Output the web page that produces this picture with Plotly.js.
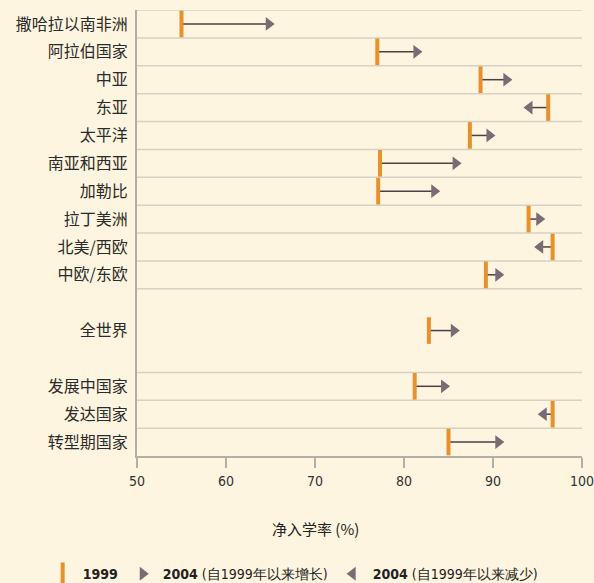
<!DOCTYPE html>
<html>
<head>
<meta charset="utf-8">
<script src="https://cdn.plot.ly/plotly-3.0.1.min.js"></script>
<style>html,body{margin:0;padding:0;background:#fdf5df;}#chart{width:594px;height:583px;}</style>
</head>
<body>
<div id="chart"></div>
<script>
// ---- data ----
var regions = ["撒哈拉以南非洲","阿拉伯国家","中亚","东亚","太平洋","南亚和西亚","加勒比","拉丁美洲","北美/西欧","中欧/东欧"];
var world = ["全世界"];
var groups = ["发展中国家","发达国家","转型期国家"];
var categories = regions.concat(world, groups);
var ner1999 = [55.0, 77.0, 88.6, 96.2, 87.4, 77.3, 77.1, 94.0, 96.7, 89.2, 82.8, 81.2, 96.7, 85.0];
var ner2004 = [64.8, 81.4, 91.5, 94.1, 89.6, 85.8, 83.4, 95.2, 95.3, 90.6, 85.6, 84.5, 95.7, 90.6];
var xTicks = [50, 60, 70, 80, 90, 100];
var legendNames = ["<b>1999</b>", "<b>2004</b> (自1999年以来增长)", "<b>2004</b> (自1999年以来减少)"];
var xTitle = "净入学率 (%)";

// ---- styles ----
var ORANGE = "#e8902a", TRI = "#7b6b74", LINE = "#4a4046", GRID = "#d6d1c4", AXIS = "#b3aea6";
var cjk = "Noto Sans CJK SC, sans-serif";
var narrow = "DejaVu Sans Condensed, Liberation Sans Narrow, DejaVu Sans, sans-serif";

// category order with spacer rows around the world row
var order = regions.concat([" "], world, ["  "], groups);

// connecting segments
var lx = [], ly = [];
for (var i = 0; i < categories.length; i++) {
  lx.push(ner1999[i], ner2004[i], null);
  ly.push(categories[i], categories[i], null);
}
var upX = [], upY = [], dnX = [], dnY = [];
for (var j = 0; j < categories.length; j++) {
  if (ner2004[j] >= ner1999[j]) { upX.push(ner2004[j]); upY.push(categories[j]); }
  else { dnX.push(ner2004[j]); dnY.push(categories[j]); }
}

var traces = [
  {x: lx, y: ly, type: "scatter", mode: "lines", line: {color: LINE, width: 1.5}, showlegend: false, hoverinfo: "skip"},
  {x: ner1999, y: categories, type: "scatter", mode: "markers", name: legendNames[0],
   marker: {symbol: "line-ns", size: 19, line: {width: 4, color: ORANGE}, color: ORANGE}},
  {x: upX, y: upY, type: "scatter", mode: "markers", name: legendNames[1],
   marker: {symbol: "triangle-right", size: 12, color: TRI, line: {width: 0}}},
  {x: dnX, y: dnY, type: "scatter", mode: "markers", name: legendNames[2],
   marker: {symbol: "triangle-left", size: 12, color: TRI, line: {width: 0}}}
];

// separator lines at row boundaries (not inside the world block)
var shapes = [];
function idx(c) { return order.indexOf(c); }
var bounds = [];
for (var r = 0; r < regions.length; r++) { bounds.push(idx(regions[r]) - 0.5); }
bounds.push(idx(regions[regions.length - 1]) + 0.5);
for (var g = 0; g < groups.length; g++) { bounds.push(idx(groups[g]) - 0.5); }
bounds.forEach(function (b) {
  shapes.push({type: "line", xref: "paper", yref: "y", x0: 0, x1: 1, y0: b, y1: b,
               line: {color: GRID, width: 1.5}, layer: "below"});
});

var layout = {
  width: 594, height: 583,
  paper_bgcolor: "#fdf5df", plot_bgcolor: "#fdf5df",
  margin: {l: 137, r: 12, t: 10, b: 127, pad: 0, autoexpand: false},
  showlegend: true,
  legend: {orientation: "h", x: -0.212, xanchor: "left", y: -0.265, yanchor: "middle",
           font: {family: narrow, size: 14, color: "#222"}, bgcolor: "rgba(0,0,0,0)", itemwidth: 30,
           traceorder: "normal"},
  xaxis: {range: [50, 100], tickvals: xTicks, ticks: "outside", ticklen: 10, tickwidth: 2, tickcolor: AXIS,
          showline: true, linecolor: AXIS, linewidth: 2, showgrid: false, zeroline: false, automargin: false,
          ticklabelstandoff: 1, ticklabeloverflow: "allow",
          tickfont: {family: narrow, size: 14, color: "#333"}},
  yaxis: {type: "category", categoryorder: "array", categoryarray: order, range: [15.5, -0.5],
          showline: true, linecolor: AXIS, linewidth: 2, showgrid: false, zeroline: false, automargin: false,
          ticks: "", ticklabelstandoff: 4, tickfont: {family: cjk, size: 16, color: "#2b2b2b"}},
  shapes: shapes,
  annotations: [{text: xTitle, xref: "paper", yref: "paper", x: 0.402, y: -0.163, showarrow: false,
                 xanchor: "center", yanchor: "middle", font: {family: cjk, size: 15, color: "#222"}}]
};

Plotly.newPlot("chart", traces, layout, {staticPlot: true, displayModeBar: false});
</script>
</body>
</html>
